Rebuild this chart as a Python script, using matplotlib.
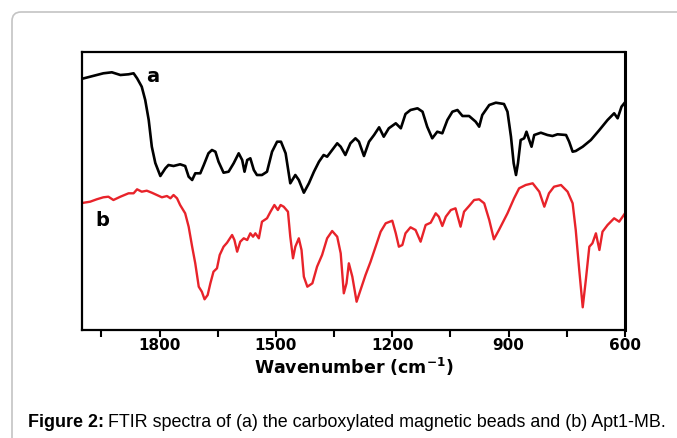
import matplotlib
matplotlib.use("Agg")
import matplotlib.pyplot as plt
from matplotlib.patches import FancyBboxPatch
from matplotlib.ticker import MultipleLocator
import numpy as np

# Curve a: carboxylated magnetic beads (wavenumber, transmittance a.u.)
wn_a = [1995, 1945, 1923, 1901, 1880, 1867, 1858, 1846, 1837, 1828, 1820, 1811,
        1798, 1785, 1777, 1764, 1747, 1734, 1725, 1716, 1708, 1695, 1686, 1674,
        1665, 1656, 1648, 1635, 1622, 1609, 1596, 1587, 1581, 1574, 1566, 1557,
        1549, 1536, 1523, 1510, 1497, 1487, 1475, 1463, 1450, 1441, 1428, 1415,
        1402, 1389, 1377, 1368, 1355, 1342, 1333, 1321, 1308, 1295, 1286, 1273,
        1260, 1247, 1234, 1222, 1209, 1191, 1178, 1166, 1153, 1135, 1122, 1110,
        1097, 1084, 1071, 1058, 1045, 1032, 1019, 1002, 985, 976, 968, 950, 933,
        912, 903, 894, 887, 881, 876, 869, 860, 854, 847, 841, 834, 817, 800,
        787, 774, 752, 744, 735, 727, 709, 688, 666, 645, 628, 619, 609, 602]
t_a = [251.7, 256.7, 257.7, 255.0, 255.7, 256.7, 251.7, 243.3, 230.0, 210.0, 183.3, 167.0,
       154.0, 161.7, 165.0, 164.0, 165.7, 164.0, 153.3, 150.0, 156.7, 156.7, 165.0, 176.7,
       180.0, 178.3, 168.3, 157.3, 158.3, 166.7, 176.7, 170.0, 158.3, 170.0, 171.7, 160.0,
       155.0, 155.0, 158.3, 178.3, 188.3, 188.3, 176.7, 146.7, 155.0, 150.0, 137.3, 146.7,
       158.3, 168.3, 175.0, 173.3, 180.0, 186.7, 183.3, 175.0, 186.7, 191.7, 188.3, 174.0,
       188.3, 195.0, 202.7, 193.3, 201.7, 206.7, 201.7, 216.0, 220.0, 221.7, 218.3, 203.3,
       191.7, 198.3, 196.7, 210.0, 218.3, 220.0, 214.0, 214.0, 208.3, 203.3, 215.0, 225.0, 227.3,
       226.0, 218.3, 193.3, 166.7, 155.0, 166.7, 190.0, 191.7, 198.3, 190.0, 183.3, 195.0, 197.3, 195.0,
       194.0, 195.7, 195.0, 188.3, 178.3, 179.0, 183.3, 190.0, 200.0, 210.0, 216.7, 211.7, 223.3, 226.7]

# Curve b: Apt1-MB
wn_b = [1995, 1979, 1962, 1945, 1932, 1919, 1901, 1880, 1867, 1858, 1846, 1833,
        1820, 1807, 1794, 1781, 1772, 1764, 1755, 1747, 1734, 1725, 1716, 1708,
        1699, 1691, 1684, 1676, 1669, 1661, 1652, 1645, 1635, 1626, 1613, 1607,
        1600, 1592, 1583, 1574, 1566, 1559, 1553, 1544, 1536, 1523, 1514, 1504,
        1495, 1488, 1480, 1469, 1463, 1456, 1450, 1441, 1434, 1428, 1419, 1406,
        1394, 1381, 1368, 1355, 1342, 1333, 1325, 1318, 1312, 1303, 1292, 1282,
        1269, 1256, 1243, 1230, 1217, 1200, 1191, 1183, 1174, 1166, 1153, 1140,
        1127, 1114, 1101, 1088, 1080, 1071, 1062, 1049, 1037, 1024, 1015, 1002,
        989, 976, 963, 950, 938, 925, 903, 886, 873, 856, 838, 821, 808, 796,
        783, 765, 748, 735, 727, 718, 709, 701, 692, 684, 675, 666, 658, 645,
        628, 615, 606, 600]
t_b = [127.3, 128.3, 130.7, 132.7, 133.3, 130.0, 133.3, 136.7, 136.7, 140.7, 138.3, 139.3,
       137.3, 135.0, 132.7, 134.0, 131.7, 135.0, 131.7, 125.0, 116.7, 103.3, 83.3, 66.7,
       43.3, 38.3, 30.7, 35.0, 46.7, 58.3, 61.7, 75.0, 83.3, 87.3, 95.0, 90.0,
       78.3, 88.3, 91.7, 90.0, 96.7, 93.3, 96.7, 91.7, 108.3, 111.7, 118.3, 125.0,
       120.0, 125.0, 123.3, 118.3, 93.3, 71.7, 83.3, 91.7, 80.0, 53.3, 43.3, 46.7,
       63.3, 75.0, 91.7, 99.0, 93.3, 76.7, 36.7, 46.7, 66.7, 53.3, 28.3, 40.0,
       55.0, 68.3, 83.3, 98.3, 106.7, 109.3, 96.7, 83.3, 85.0, 96.7, 102.7, 100.0,
       88.3, 105.0, 107.3, 116.7, 113.3, 104.0, 113.3, 120.0, 121.7, 103.3, 118.3, 124.0,
       130.0, 130.7, 126.7, 110.0, 90.7, 100.0, 116.7, 131.7, 141.7, 145.0, 146.7, 138.3, 123.3, 136.7,
       143.3, 145.0, 138.3, 126.7, 100.0, 60.0, 22.7, 50.0, 83.3, 86.7, 96.7, 80.0, 98.3, 105.0,
       111.7, 108.3, 113.3, 116.7]

xticks = [1800, 1500, 1200, 900, 600]

W, H = 677, 438
fig = plt.figure(figsize=(W / 100, H / 100), dpi=100)

# rounded frame around the figure
frame = FancyBboxPatch((12, -30), 720, 456, boxstyle="round,pad=0,rounding_size=9",
                       transform=None, facecolor="none", edgecolor="#c4c4c4", linewidth=1.2)
fig.add_artist(frame)

ax = fig.add_axes([82 / W, 1 - 330 / H, (625 - 82) / W, (330 - 52) / H])
ax.plot(wn_a, t_a, color="black", lw=1.9, solid_joinstyle="round")
ax.plot(wn_b, t_b, color="#e8232a", lw=1.7, solid_joinstyle="round")

ax.set_xlim(2000, 600)
ax.set_ylim(0, 278)
ax.set_xticks(xticks)
ax.xaxis.set_minor_locator(MultipleLocator(150))
ax.set_yticks([])
ax.tick_params(axis="x", which="both", direction="out", length=5, width=1.5, pad=1)
for lbl in ax.get_xticklabels():
    lbl.set_fontweight("bold")
    lbl.set_fontsize(11)
for side in ["left", "bottom", "top"]:
    ax.spines[side].set_linewidth(1.6)
ax.spines["right"].set_linewidth(2.2)

ax.text(1819, 254, "a", fontsize=14, fontweight="bold", ha="center", va="center")
ax.text(1947, 110, "b", fontsize=14, fontweight="bold", ha="center", va="center")

fig.text(354 / W, 1 - 367 / H, r"Wavenumber (cm$^{\mathbf{-1}}$)", fontsize=12.5,
         fontweight="bold", ha="center", va="center")

# caption
t1 = fig.text(28 / W, 1 - 427 / H, "Figure 2:", fontsize=12.85, fontweight="bold",
              family="Liberation Sans", ha="left", va="baseline")
fig.canvas.draw()
r = fig.canvas.get_renderer()
bb = t1.get_window_extent(r)
fig.text(bb.x1 / W + 4 / W, 1 - 427 / H,
         "FTIR spectra of (a) the carboxylated magnetic beads and (b) Apt1-MB.",
         fontsize=12.85, family="Liberation Sans", ha="left", va="baseline")

fig.savefig("out.png", dpi=100)
